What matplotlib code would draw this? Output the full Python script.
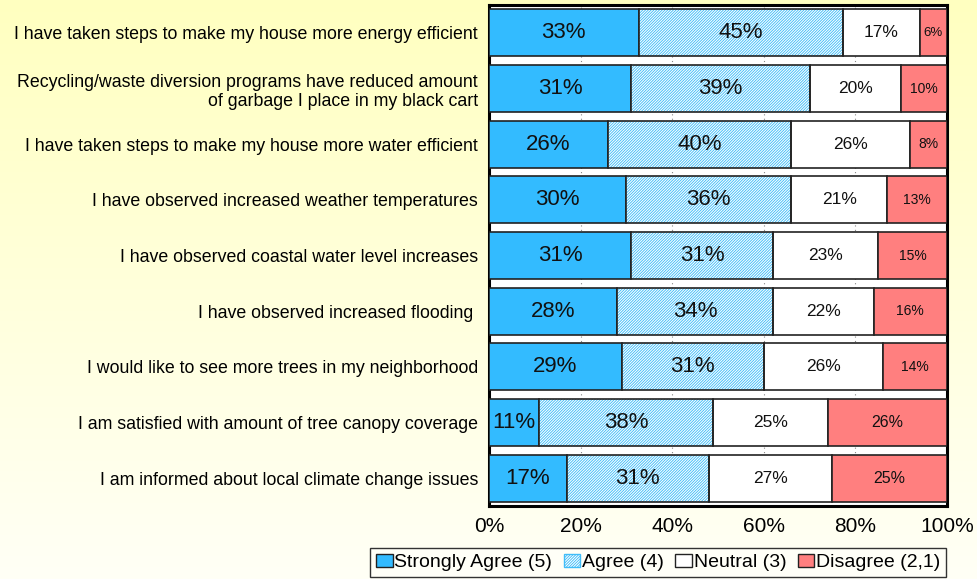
import numpy as np
import matplotlib
matplotlib.use("Agg")
import matplotlib.pyplot as plt
from matplotlib.patches import Patch

plt.rcParams['font.family'] = ['Liberation Sans', 'DejaVu Sans']

statements = [
    "I have taken steps to make my house more energy efficient",
    "Recycling/waste diversion programs have reduced amount\nof garbage I place in my black cart",
    "I have taken steps to make my house more water efficient",
    "I have observed increased weather temperatures",
    "I have observed coastal water level increases",
    "I have observed increased flooding ",
    "I would like to see more trees in my neighborhood",
    "I am satisfied with amount of tree canopy coverage",
    "I am informed about local climate change issues",
]
strongly_agree = [33, 31, 26, 30, 31, 28, 29, 11, 17]
agree = [45, 39, 40, 36, 31, 34, 31, 38, 31]
neutral = [17, 20, 26, 21, 23, 22, 26, 25, 27]
disagree = [6, 10, 8, 13, 15, 16, 14, 26, 25]

series_names = ["Strongly Agree (5)", "Agree (4)", "Neutral (3)", "Disagree (2,1)"]
x_ticks = [0, 20, 40, 60, 80, 100]
x_tick_labels = ["0%", "20%", "40%", "60%", "80%", "100%"]

blue = "#33BBFF"
hatch_blue = "#40BDF8"
red = "#FF7F7F"
edge = "#222222"
agree_hatch = "/" * 12

fig = plt.figure(figsize=(9.78, 5.79), dpi=100)

# soft yellow backdrop fading towards the bottom
bg = fig.add_axes([0, 0, 1, 1], zorder=-10)
grad = np.linspace(0, 1, 256)[:, None]
top = np.array([255, 255, 192]) / 255
bot = np.array([255, 255, 246]) / 255
img = top[None, None, :] * (1 - grad[..., None]) + bot[None, None, :] * grad[..., None]
bg.imshow(img, aspect='auto', extent=[0, 1, 0, 1])
bg.set_axis_off()

ax = fig.add_axes([489 / 978, 1 - 506 / 579, (947 - 489) / 978, (506 - 5) / 579])
ax.set_facecolor("white")

data = np.array([strongly_agree, agree, neutral, disagree], dtype=float)
shares = data / data.sum(axis=0) * 100
y = np.arange(len(statements))
h = 0.84

plt.rcParams['hatch.linewidth'] = 0.65
left = np.zeros(len(statements))
for i in range(4):
    w = shares[i]
    if i == 0:
        ax.barh(y, w, left=left, height=h, color=blue, edgecolor=edge, linewidth=1.2, zorder=3)
    elif i == 1:
        ax.barh(y, w, left=left, height=h, color="white", edgecolor=hatch_blue,
                hatch=agree_hatch, linewidth=0, zorder=3)
        ax.barh(y, w, left=left, height=h, fill=False, edgecolor=edge, linewidth=1.2, zorder=4)
    elif i == 2:
        ax.barh(y, w, left=left, height=h, color="white", edgecolor=edge, linewidth=1.2, zorder=3)
    else:
        ax.barh(y, w, left=left, height=h, color=red, edgecolor=edge, linewidth=1.2, zorder=3)

    for j in range(len(statements)):
        val = data[i, j]
        cx = left[j] + w[j] / 2
        if i < 2:
            fs = 16
        elif i == 2:
            fs = 12.5
        else:
            if val < 8:
                fs = 9.5
            elif val > 20:
                fs = 11.5
            else:
                fs = 10
        ax.text(cx, y[j], f"{int(val)}%", ha="center", va="center", fontsize=fs,
                color="#111111", zorder=5)
    left = left + w

ax.set_xlim(0, 100)
ax.set_ylim(len(statements) - 0.5, -0.5)
ax.set_yticks(y)
ax.set_yticklabels(statements, fontsize=12.8, ha="right")
ax.set_xticks(x_ticks)
ax.set_xticklabels(x_tick_labels, fontsize=15)
ax.tick_params(axis="x", length=0, pad=8)
ax.tick_params(axis="y", length=0, pad=8)
ax.xaxis.grid(True, color="#888888", linestyle=(0, (1, 3)), linewidth=0.8, zorder=0)
ax.set_axisbelow(True)
for s in ax.spines.values():
    s.set_linewidth(2.2)
    s.set_color("black")

handles = [
    Patch(facecolor=blue, edgecolor=edge, linewidth=1),
    Patch(facecolor="white", edgecolor=hatch_blue, hatch=agree_hatch, linewidth=1),
    Patch(facecolor="white", edgecolor=edge, linewidth=1),
    Patch(facecolor=red, edgecolor=edge, linewidth=1),
]
leg = fig.legend(handles, series_names, loc="lower right", ncol=4,
                 bbox_to_anchor=(946 / 978, 2 / 579), fontsize=14, frameon=True,
                 fancybox=False, edgecolor="#333333",
                 handlelength=0.85, handleheight=0.65, handletextpad=0.08,
                 columnspacing=0.6, borderpad=0.3, borderaxespad=0)
leg.get_frame().set_linewidth(1.0)
leg.get_frame().set_alpha(None)
leg.get_frame().set_facecolor((1, 1, 0.97))

fig.savefig("out.png", dpi=100)
